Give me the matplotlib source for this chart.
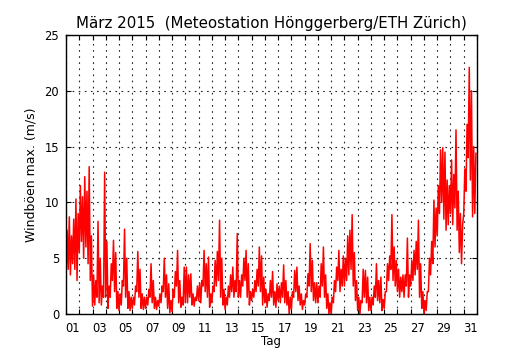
#!/usr/bin/env python3
"""Windboeen max. Maerz 2015, Meteostation Hoenggerberg/ETH Zuerich."""

import numpy as np
import matplotlib
matplotlib.use("Agg")
import matplotlib.pyplot as plt
from matplotlib.ticker import FixedLocator, NullFormatter

gust_low = [
    3.0, 4.0, 3.5, 4.5, 4.0, 3.0,    # 01
    5.5, 6.5, 5.0, 6.0, 4.5, 3.0,    # 02
    0.7, 0.8, 1.5, 1.0, 0.8, 1.5,    # 03
    1.5, 0.5, 1.5, 3.0, 2.0, 0.5,    # 04
    0.3, 0.8, 2.5, 1.5, 0.5, 0.3,    # 05
    0.5, 0.8, 2.0, 1.5, 0.5, 0.4,    # 06
    0.5, 0.8, 1.5, 1.0, 0.5, 0.4,    # 07
    0.7, 1.0, 2.0, 1.5, 0.5, 0.1,    # 08
    0.2, 1.5, 2.5, 1.0, 0.6, 0.8,    # 09
    1.0, 1.0, 1.5, 0.8, 0.7, 1.2,    # 10
    1.2, 1.0, 2.5, 2.0, 1.5, 0.6,    # 11
    1.0, 2.0, 2.5, 3.0, 1.5, 0.8,    # 12
    0.4, 0.8, 1.5, 2.0, 1.5, 2.0,    # 13
    1.5, 1.5, 2.5, 3.0, 1.5, 0.8,    # 14
    1.2, 1.5, 2.0, 2.5, 2.0, 0.8,    # 15
    1.0, 0.6, 1.2, 1.5, 0.8, 0.6,    # 16
    1.2, 1.0, 1.5, 1.0, 0.8, 0.0,    # 17
    0.4, 1.5, 2.0, 1.2, 0.8, 0.4,    # 18
    0.8, 1.5, 2.5, 2.0, 1.2, 1.0,    # 19
    1.0, 1.5, 2.5, 1.5, 0.5, 0.0,    # 20
    0.0, 1.0, 2.0, 3.0, 2.0, 2.5,    # 21
    2.5, 3.0, 3.5, 4.0, 2.5, 1.2,    # 22
    0.3, 0.0, 1.0, 1.5, 1.0, 0.3,    # 23
    0.3, 0.8, 1.5, 1.2, 1.0, 0.3,    # 24
    0.5, 2.0, 3.0, 4.0, 3.0, 2.5,    # 25
    2.0, 1.5, 2.0, 1.5, 2.5, 1.5,    # 26
    2.5, 3.0, 3.5, 4.0, 1.5, 0.5,    # 27
    0.0, 0.3, 2.0, 3.5, 4.5, 6.0,    # 28
    7.0, 9.0, 10.0, 8.5, 7.5, 8.0,   # 29
    9.0, 8.0, 9.5, 7.5, 5.5, 4.5,    # 30
    9.0, 11.0, 14.0, 12.0, 8.7, 9.0, # 31
]
gust_high = [
    7.5, 8.7, 7.0, 8.5, 10.3, 9.0,     # 01
    11.5, 10.5, 12.3, 11.0, 13.2, 7.0, # 02
    3.5, 3.0, 8.3, 5.0, 2.5, 12.7,     # 03
    6.5, 2.5, 4.5, 6.6, 5.5, 2.0,      # 04
    1.8, 3.0, 7.6, 5.0, 2.0, 1.5,      # 05
    1.5, 2.5, 5.6, 4.0, 1.8, 1.5,      # 06
    1.5, 2.2, 4.5, 3.0, 1.5, 1.2,      # 07
    1.8, 2.5, 5.0, 3.5, 2.7, 1.2,      # 08
    2.2, 3.8, 5.7, 3.0, 1.5, 4.2,      # 09
    4.2, 3.5, 3.6, 1.8, 1.5, 2.5,      # 10
    2.8, 3.0, 5.7, 4.5, 5.1, 1.8,      # 11
    2.5, 4.8, 5.6, 8.4, 5.0, 2.2,      # 12
    1.5, 2.5, 3.5, 4.2, 3.0, 7.2,      # 13
    3.0, 3.5, 5.0, 5.7, 4.5, 2.0,      # 14
    2.2, 3.0, 4.0, 6.0, 5.2, 3.3,      # 15
    2.2, 1.8, 3.0, 3.8, 2.0, 2.7,      # 16
    2.5, 2.8, 4.4, 3.0, 2.0, 1.5,      # 17
    2.0, 3.9, 4.2, 2.5, 1.8, 1.2,      # 18
    1.8, 3.6, 6.3, 4.8, 2.8, 2.8,      # 19
    2.5, 4.5, 6.0, 3.5, 1.8, 1.0,      # 20
    1.5, 3.0, 4.2, 5.7, 4.0, 5.2,      # 21
    5.0, 7.0, 7.5, 8.9, 5.5, 3.0,      # 22
    1.5, 1.2, 4.0, 3.9, 3.3, 1.5,      # 23
    1.5, 2.5, 4.5, 3.0, 3.3, 1.3,      # 24
    2.0, 4.5, 5.2, 8.9, 6.0, 4.8,      # 25
    4.0, 3.3, 3.5, 3.5, 6.8, 3.5,      # 26
    4.8, 5.7, 6.5, 8.4, 4.5, 2.0,      # 27
    1.2, 2.0, 5.0, 6.5, 10.2, 9.5,     # 28
    11.5, 14.7, 14.9, 14.5, 12.0, 11.5,  # 29
    13.8, 12.5, 16.5, 11.0, 9.0, 8.0,  # 30
    13.0, 17.0, 22.1, 20.0, 15.0, 14.4,  # 31
]
day_labels = ["%02d" % d for d in range(1, 32, 2)]
y_ticks = [0, 5, 10, 15, 20, 25]

SLOTS_PER_DAY = 6


def main():
    n = len(gust_low)
    t0 = np.arange(n) / SLOTS_PER_DAY
    # Minimum am Anfang, Maximum in der Mitte jedes Zeitfensters
    t = np.empty(2 * n)
    v = np.empty(2 * n)
    t[0::2] = t0
    t[1::2] = t0 + 0.5 / SLOTS_PER_DAY
    v[0::2] = gust_low
    v[1::2] = gust_high

    fig = plt.figure(figsize=(5.3, 3.5), dpi=100)
    ax = fig.add_axes([0.1245, 0.103, 0.7755, 0.797])

    ax.plot(t, v, color="#ff0000", linewidth=1.1)

    ax.set_xlim(0, 31)
    ax.set_ylim(0, 25)

    # Tagesgrenzen als Haupt-Ticks, Beschriftung in der Tagesmitte
    ax.xaxis.set_major_locator(FixedLocator(np.arange(0, 32)))
    ax.xaxis.set_major_formatter(NullFormatter())
    ax.xaxis.set_minor_locator(FixedLocator(np.arange(0.5, 31, 2)))
    ax.set_xticklabels(day_labels, minor=True)
    ax.set_yticks(y_ticks)

    ax.tick_params(which="major", direction="in", length=3.5, width=0.8,
                   top=True, right=True, labelsize=8.3, pad=5)
    ax.tick_params(which="minor", length=0, labelsize=8.3, pad=5.5)

    ax.grid(True, which="major", color="#222222", linestyle=(0, (1.5, 4)),
            linewidth=0.8)
    for s in ax.spines.values():
        s.set_linewidth(1.0)

    ax.set_xlabel("Tag", fontsize=8.5, labelpad=0.5)
    ax.set_ylabel("Windböen max. (m/s)", fontsize=9, labelpad=5)
    ax.set_title("März 2015  (Meteostation Hönggerberg/ETH Zürich)",
                 fontsize=10.8, pad=5)

    fig.savefig("out.png", dpi=100)
    plt.close(fig)


if __name__ == "__main__":
    main()
